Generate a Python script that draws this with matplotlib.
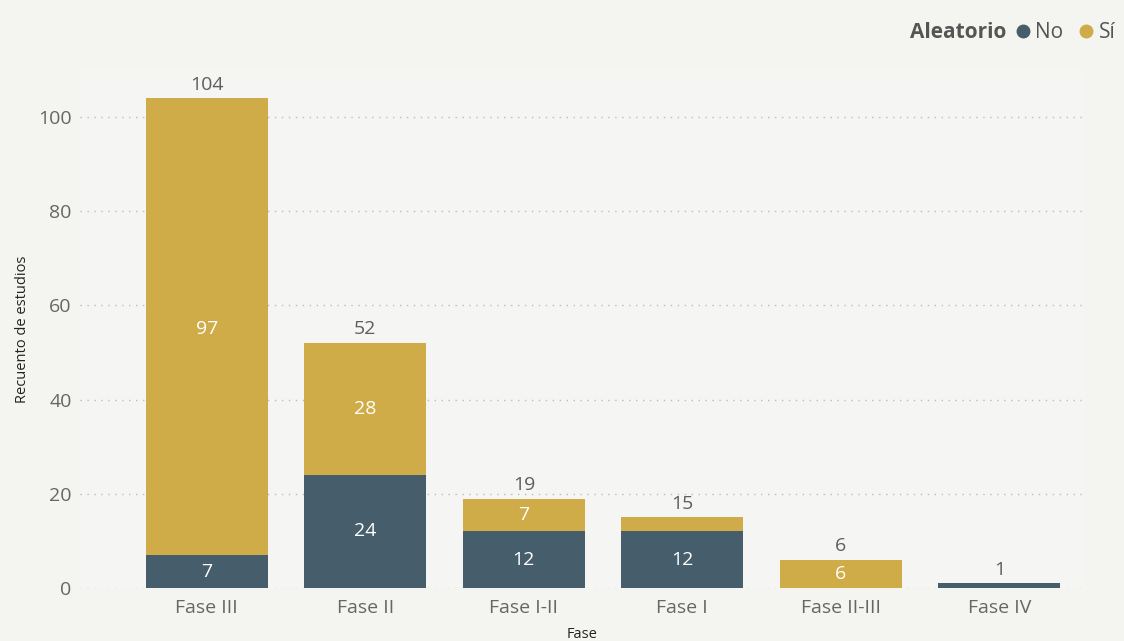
import matplotlib.pyplot as plt
from matplotlib.lines import Line2D

# recuento de estudios por fase, separado por aleatorizacion
fases = ['Fase III', 'Fase II', 'Fase I-II', 'Fase I', 'Fase II-III', 'Fase IV']
no_aleat = [7, 24, 12, 12, 0, 1]
si_aleat = [97, 28, 7, 3, 6, 0]
totales = [a + b for a, b in zip(no_aleat, si_aleat)]

col_no = '#465D6C'
col_si = '#CFAC47'
fondo = '#F4F4F1'
gris = '#605E5C'

plt.rcParams['font.family'] = ['Open Sans', 'DejaVu Sans']

fig = plt.figure(figsize=(11.24, 6.41), dpi=100, facecolor=fondo)
ax = fig.add_axes([80 / 1124, 53 / 641, 1005 / 1124, 518 / 641])
ax.set_facecolor('#F5F5F4')

x = list(range(len(fases)))
ancho = 0.77
b1 = ax.bar(x, no_aleat, ancho, color=col_no, zorder=3)
b2 = ax.bar(x, si_aleat, ancho, bottom=no_aleat, color=col_si, zorder=3)

# etiquetas dentro de cada segmento (solo si cabe)
for i in x:
    if no_aleat[i] >= 5:
        ax.text(i, no_aleat[i] / 2, str(no_aleat[i]), ha='center', va='center',
                color='white', fontsize=14, zorder=4)
    if si_aleat[i] >= 5:
        y = si_aleat[i] / 2 + no_aleat[i]
        if i == 0:
            y = 55
        ax.text(i, y, str(si_aleat[i]), ha='center', va='center',
                color='white', fontsize=14, zorder=4)
    ax.text(i, totales[i] + 1.0, str(totales[i]), ha='center', va='bottom',
            color=gris, fontsize=14, zorder=4)

ax.set_xlim(-0.80, 5.54)
ax.set_ylim(0, 110)
ax.set_yticks([0, 20, 40, 60, 80, 100])
ax.set_xticks(x)
ax.set_xticklabels(fases)
ax.tick_params(axis='both', length=0, labelsize=14, colors='#666666', pad=6)
ax.tick_params(axis='x', pad=8)
ax.yaxis.grid(True, linestyle=(0, (1, 4)), color='#BBBBBB', linewidth=1, zorder=0)
for s in ax.spines.values():
    s.set_visible(False)

ax.set_ylabel('Recuento de estudios', fontsize=10.5, color='#222222', labelpad=6)
ax.set_xlabel('Fase', fontsize=10.5, color='#222222', labelpad=7)

# leyenda arriba a la derecha
fig.text(1006 / 1124, 1 - 33 / 641, 'Aleatorio', ha='right', va='center',
         fontsize=15, fontweight='bold', color='#555555')
manejadores = [Line2D([], [], marker='o', linestyle='none', color=col_no, markersize=9),
               Line2D([], [], marker='o', linestyle='none', color=col_si, markersize=9)]
fig.legend(manejadores, ['No', 'Sí'], loc='center right',
           bbox_to_anchor=(1130 / 1124, 1 - 33 / 641), ncol=2, frameon=False,
           fontsize=15, labelcolor='#555555', handletextpad=0.1,
           columnspacing=0.6, handlelength=1.0, borderpad=0.2)

fig.savefig('out.png', dpi=100, facecolor=fondo)
